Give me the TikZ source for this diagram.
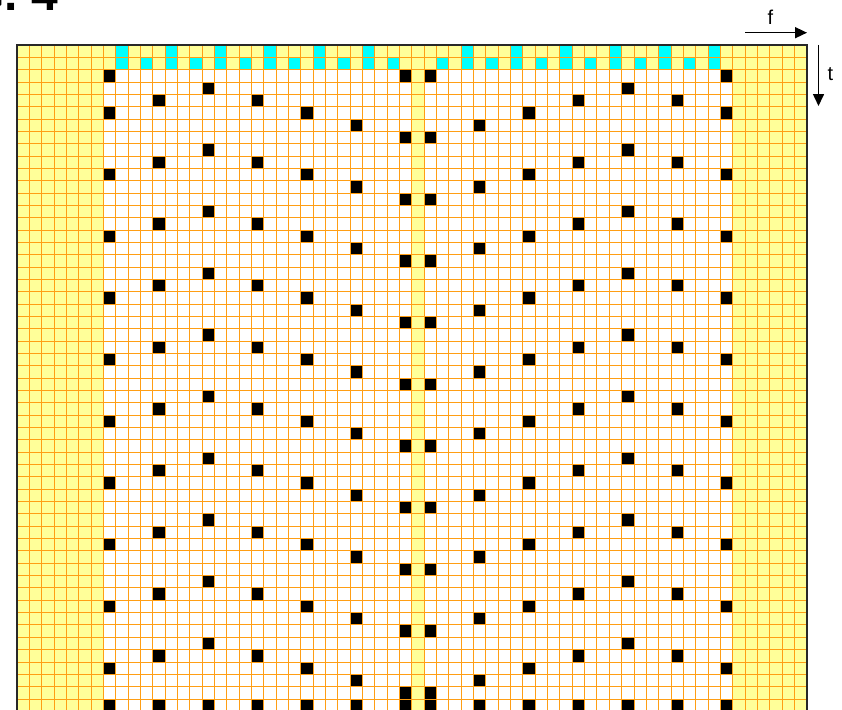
\documentclass[tikz,border=0pt]{standalone}
\usepackage{fontspec}
\setmainfont{Liberation Sans}
\usetikzlibrary{arrows.meta}
\definecolor{gridyellow}{RGB}{255,255,153}
\definecolor{gridorange}{RGB}{255,158,20}
\definecolor{pilotcyan}{RGB}{0,255,255}
\definecolor{framegray}{RGB}{40,40,40}
\newcommand\cellsz{12.34}
\newcommand\gxo{17}
\newcommand\gyo{45}
\newcommand\blackcell[2]{\fill[black] (\gxo+#1*\cellsz,\gyo+#2*\cellsz) rectangle ++(\cellsz,\cellsz);}
\newcommand\cyancell[3]{\fill[pilotcyan] (\gxo+#1*\cellsz,\gyo+#2*\cellsz) rectangle ++(\cellsz,#3*\cellsz);}
\begin{document}
\begin{tikzpicture}[x=1pt,y=-1pt,
  gridline/.style={draw=gridorange,line width=1pt},
  framestyle/.style={draw=framegray,line width=2pt},
  axisarrow/.style={draw=black,line width=1.6pt,-{Triangle[length=12pt,width=11pt]}},
  axislabel/.style={font=\fontsize{20}{20}\selectfont,inner sep=0pt},
  titlestyle/.style={font=\bfseries\fontsize{48}{48}\selectfont,inner sep=0pt}]
\useasboundingbox (0,0) rectangle (842,709);
% title (cut off by the page edge)
\node[titlestyle,anchor=base east] (title) at (58,11) {FIG. 4};
\begin{scope}
\clip (\gxo,\gyo) rectangle (806.8,709);
\fill[gridyellow] (\gxo,\gyo) rectangle (806.8,720);
% white data regions
\fill[white] (\gxo+7*\cellsz,\gyo+2*\cellsz) rectangle (\gxo+32*\cellsz,720);
\fill[white] (\gxo+33*\cellsz,\gyo+2*\cellsz) rectangle (\gxo+58*\cellsz,720);
% cyan header cells
\foreach \c in {8,12,...,28,36,40,...,56} {\cyancell{\c}{0}{2}}
\foreach \c in {10,14,...,30,34,38,...,54} {\cyancell{\c}{1}{1}}
% black cells
\foreach \c/\s in {7/5,11/4,15/3,19/4,23/5,27/6,31/2,33/2,37/6,41/5,45/4,49/3,53/4,57/5} {
  \foreach \k in {0,...,10} {
    \pgfmathtruncatemacro\r{\s+5*\k}
    \ifnum\r<53 \blackcell{\c}{\r}\fi
  }
  \blackcell{\c}{53}
}
\blackcell{7}{2}
\blackcell{57}{2}
% grid lines
\foreach \i in {0,...,64} {\draw[gridline] (\gxo+\i*\cellsz,\gyo) -- (\gxo+\i*\cellsz,720);}
\foreach \j in {0,...,55} {\draw[gridline] (\gxo,\gyo+\j*\cellsz) -- (806.8,\gyo+\j*\cellsz);}
\end{scope}
% frame
\draw[framestyle] (\gxo,712) -- (\gxo,\gyo) -- (806.8,\gyo) -- (806.8,712);
% axes
\coordinate (fstart) at (745,32.7);
\coordinate (fend) at (807,32.7);
\draw[axisarrow] (fstart) -- (fend);
\node[axislabel,anchor=base] (flabel) at (770.5,25) {f};
\coordinate (tstart) at (818.5,45);
\coordinate (tend) at (818.5,106);
\draw[axisarrow] (tstart) -- (tend);
\node[axislabel,anchor=base] (tlabel) at (830.5,80) {t};
\end{tikzpicture}
\end{document}
